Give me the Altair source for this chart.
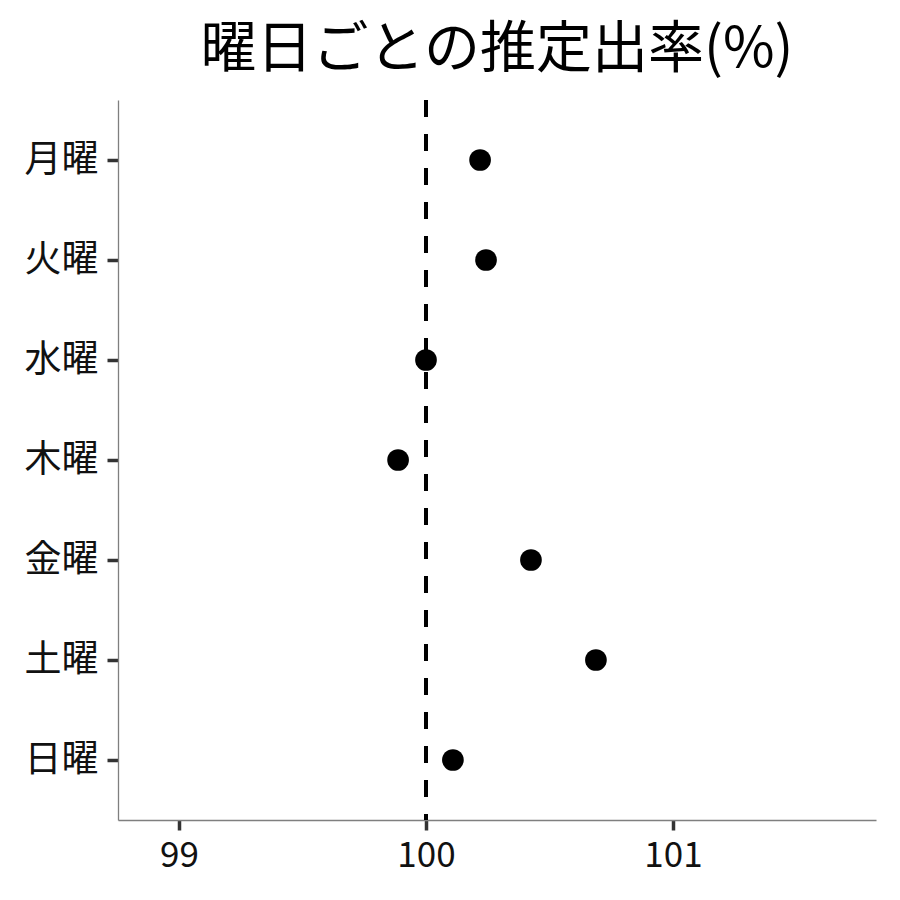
import altair as alt
import pandas as pd

days = ["月曜", "火曜", "水曜", "木曜", "金曜", "土曜", "日曜"]
rates = [100.219, 100.243, 100.0, 99.887, 100.425, 100.688, 100.109]
x_ticks = [99, 100, 101]
x_domain = [98.753, 101.822]
ref_value = 100
title_text = "曜日ごとの推定出率(%)"

df = pd.DataFrame({"day": days, "rate": rates})
FONT = "Noto Sans CJK JP"

x_scale = alt.Scale(domain=x_domain, nice=False, zero=False)

points = alt.Chart(df).mark_circle(size=470, color="black", opacity=1).encode(
    x=alt.X("rate:Q", scale=x_scale,
            axis=alt.Axis(values=x_ticks, format="d", title=None, grid=False,
                          labelFontSize=35, labelFont=FONT, labelColor="#111111",
                          tickSize=10, tickWidth=3.5, tickColor="#333333",
                          domainColor="#7f7f7f", domainWidth=1.3, labelPadding=8,
                          labelFlush=False)),
    y=alt.Y("day:N", sort=days,
            scale=alt.Scale(type="point", padding=0.6),
            axis=alt.Axis(title=None, grid=False,
                          labelFontSize=37, labelFont=FONT, labelColor="#111111",
                          tickSize=11, tickWidth=3.5, tickColor="#333333",
                          domainColor="#7f7f7f", domainWidth=1.3, labelPadding=9)),
)

rule = alt.Chart(df).mark_rule(color="black", strokeWidth=3.5, strokeDash=[17, 17]).encode(
    x=alt.datum(ref_value, scale=x_scale)
)

chart = alt.layer(rule, points).properties(
    width=758, height=720,
    title=alt.TitleParams(title_text, font=FONT, fontSize=56, fontWeight="normal",
                          color="black", anchor="middle", offset=19),
    autosize=alt.AutoSizeParams(type="none"),
    padding={"left": 110, "top": 92, "right": 16, "bottom": 70},
).configure_view(stroke=None)

chart.save("out.html", embed_options={"renderer": "svg", "actions": False})
